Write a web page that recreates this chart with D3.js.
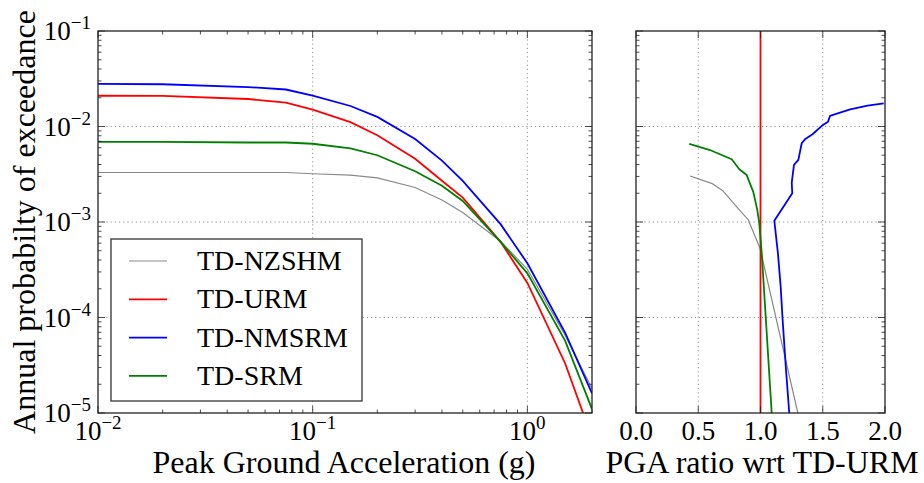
<!DOCTYPE html>
<html><head><meta charset="utf-8">
<script src="https://cdn.jsdelivr.net/npm/d3@7"></script>
</head><body style="margin:0;background:#fff">
<svg id="chart" width="924" height="483"></svg>
<script>
// hazard curves: annual probability of exceedance vs PGA (g)
var PGA = [0.01, 0.02, 0.05, 0.075, 0.1, 0.15, 0.2, 0.3, 0.4, 0.5, 0.75, 1.0, 1.5, 2.0];
var NZSHM = [0.0033, 0.0033, 0.0033, 0.0033, 0.0032, 0.0031, 0.0029, 0.0023, 0.0017, 0.00126, 0.00063, 0.00032, 0.000065, 0.000018];
var URM = [0.021, 0.0209, 0.0194, 0.0178, 0.015, 0.0111, 0.0081, 0.0046, 0.0027, 0.0018, 0.00062, 0.00023, 0.000033, 0.0000055];
var NMSRM = [0.0279, 0.0277, 0.0259, 0.0244, 0.021, 0.0164, 0.0126, 0.0074, 0.0044, 0.0027, 0.00095, 0.00037, 0.000069, 0.000016];
var SRM = [0.0069, 0.0069, 0.0068, 0.0068, 0.0066, 0.0059, 0.005, 0.0034, 0.0024, 0.00166, 0.00062, 0.00029, 0.000057, 0.000011];

// PGA ratio wrt TD-URM, as [ratio, probability]
var RATIO_NZSHM = [[0.434, 0.00303], [0.608, 0.00254], [0.70, 0.00211], [0.795, 0.00151], [0.902, 0.00105],
  [0.996, 0.00053], [1.30, 0.00001]];
var RATIO_URM = [[1.0, 0.1], [1.0, 0.00001]];
var RATIO_NMSRM = [[1.99, 0.0175], [1.86, 0.0165], [1.72, 0.0151], [1.558, 0.0129], [1.542, 0.0112], [1.49, 0.0101],
  [1.418, 0.0083], [1.357, 0.00734], [1.331, 0.00667], [1.304, 0.00447], [1.269, 0.00397], [1.251, 0.00258],
  [1.255, 0.0020], [1.111, 0.00103], [1.14, 0.00047], [1.162, 0.00021], [1.178, 0.000093], [1.205, 0.000028],
  [1.231, 0.00001]];
var RATIO_SRM = [[0.428, 0.00656], [0.594, 0.00567], [0.769, 0.00454], [0.83, 0.00357], [0.889, 0.0031],
  [0.942, 0.00207], [0.974, 0.00134], [0.99, 0.00098], [1.01, 0.00047], [1.09, 0.00001]];

var NAMES = ["TD-NZSHM", "TD-URM", "TD-NMSRM", "TD-SRM"];
var COLORS = ["#8a8a8a", "#ff0000", "#0000ff", "#008000"];
var WIDTHS = [1.2, 1.8, 1.8, 1.8];

var FONT = "'Liberation Serif', 'Times New Roman', serif";
var svg = d3.select("#chart").style("font-family", FONT);
var top_ = 31, bot = 413;

var x = d3.scaleLog().domain([0.01, 2]).range([98, 592]);
var y = d3.scaleLog().domain([1e-5, 1e-1]).range([bot, top_]);
var xr = d3.scaleLinear().domain([0, 2]).range([636, 885]);

var decades = [1e-5, 1e-4, 1e-3, 1e-2, 1e-1];
var minorY = [];
decades.slice(0, 4).forEach(function(d) { for (var k = 2; k < 10; k++) minorY.push(d * k); });
var minorX = [];
[0.01, 0.1, 1].forEach(function(d) { for (var k = 2; k < 10; k++) if (d * k <= 2) minorX.push(d * k); });

var gridStyle = function(sel) {
	sel.attr("stroke", "#777").attr("stroke-width", 0.8).attr("stroke-dasharray", "1.2,3");
};

function frame(xs) {
	var x0 = xs.range()[0], x1 = xs.range()[1];
	svg.append("rect")
		.attr("x", x0).attr("y", top_)
		.attr("width", x1 - x0).attr("height", bot - top_)
		.attr("fill", "none").attr("stroke", "#222").attr("stroke-width", 1.3);
}

function ticks(xs, xMajor, xMinor, yMajor, yMinor) {
	var x0 = xs.range()[0], x1 = xs.range()[1];
	var g = svg.append("g").attr("stroke", "#222").attr("stroke-width", 0.8);
	var addX = function(vals, len) {
		vals.forEach(function(v) {
			g.append("line").attr("x1", xs(v)).attr("x2", xs(v)).attr("y1", bot).attr("y2", bot - len);
			g.append("line").attr("x1", xs(v)).attr("x2", xs(v)).attr("y1", top_).attr("y2", top_ + len);
		});
	};
	var addY = function(vals, len) {
		vals.forEach(function(v) {
			g.append("line").attr("y1", y(v)).attr("y2", y(v)).attr("x1", x0).attr("x2", x0 + len);
			g.append("line").attr("y1", y(v)).attr("y2", y(v)).attr("x1", x1).attr("x2", x1 - len);
		});
	};
	addX(xMajor, 7); addX(xMinor, 3.5);
	addY(yMajor, 7); addY(yMinor, 3.5);
}

// "10" with a superscript exponent
function sci(g, exp, px, py, anchor) {
	var t = g.append("text").attr("x", px).attr("y", py)
		.attr("text-anchor", anchor).attr("font-size", 27);
	t.append("tspan").text("10");
	t.append("tspan").attr("dy", -11).attr("font-size", 19).text(exp < 0 ? "\u2212" + (-exp) : exp);
}

// ---------- left panel ----------
var gridL = svg.append("g");
gridL.selectAll(".gx").data([0.1, 1]).enter().append("line")
	.attr("x1", function(d) { return x(d); }).attr("x2", function(d) { return x(d); })
	.attr("y1", top_).attr("y2", bot).call(gridStyle);
gridL.selectAll(".gy").data([1e-4, 1e-3, 1e-2]).enter().append("line")
	.attr("y1", function(d) { return y(d); }).attr("y2", function(d) { return y(d); })
	.attr("x1", x.range()[0]).attr("x2", x.range()[1]).call(gridStyle);

svg.append("clipPath").attr("id", "clipL").append("rect")
	.attr("x", 98).attr("y", top_).attr("width", 494).attr("height", bot - top_);

var hazard = [NZSHM, URM, NMSRM, SRM];
var lineL = d3.line().x(function(d, i) { return x(PGA[i]); }).y(function(d) { return y(d); });
svg.append("g").attr("clip-path", "url(#clipL)")
	.selectAll("path").data(hazard).enter().append("path")
	.attr("d", lineL).attr("fill", "none")
	.attr("stroke", function(d, i) { return COLORS[i]; })
	.attr("stroke-width", function(d, i) { return WIDTHS[i]; });

ticks(x, [0.01, 0.1, 1], minorX, decades, minorY);
frame(x);

var lab = svg.append("g");
[-2, -1, 0].forEach(function(e) { sci(lab, e, x(Math.pow(10, e)), 440, "middle"); });
decades.forEach(function(d) { sci(lab, Math.round(Math.log10(d)), 91, y(d) + 9, "end"); });

svg.append("text").attr("x", 344).attr("y", 473).attr("text-anchor", "middle")
	.attr("font-size", 32).text("Peak Ground Acceleration (g)");
svg.append("text").attr("transform", "translate(35,222) rotate(-90)").attr("text-anchor", "middle")
	.attr("font-size", 32).text("Annual probabilty of exceedance");

// legend
var leg = svg.append("g");
leg.append("rect").attr("x", 111).attr("y", 239).attr("width", 251).attr("height", 162)
	.attr("fill", "#fff").attr("stroke", "#333").attr("stroke-width", 1.3);
var items = leg.selectAll(".item").data(NAMES).enter().append("g")
	.attr("transform", function(d, i) { return "translate(0," + (261 + i * 38.3) + ")"; });
items.append("line").attr("x1", 129).attr("x2", 167)
	.attr("stroke", function(d, i) { return COLORS[i]; })
	.attr("stroke-width", function(d, i) { return WIDTHS[i]; });
items.append("text").attr("x", 197).attr("y", 9).attr("font-size", 28).text(function(d) { return d; });

// ---------- right panel ----------
var gridR = svg.append("g");
gridR.selectAll(".gx").data([0.5, 1, 1.5]).enter().append("line")
	.attr("x1", function(d) { return xr(d); }).attr("x2", function(d) { return xr(d); })
	.attr("y1", top_).attr("y2", bot).call(gridStyle);
gridR.selectAll(".gy").data([1e-4, 1e-3, 1e-2]).enter().append("line")
	.attr("y1", function(d) { return y(d); }).attr("y2", function(d) { return y(d); })
	.attr("x1", xr.range()[0]).attr("x2", xr.range()[1]).call(gridStyle);

var ratios = [RATIO_NZSHM, RATIO_URM, RATIO_NMSRM, RATIO_SRM];
var lineR = d3.line().x(function(d) { return xr(d[0]); }).y(function(d) { return y(d[1]); });
svg.append("g").selectAll("path").data(ratios).enter().append("path")
	.attr("d", lineR).attr("fill", "none").attr("stroke-linejoin", "round")
	.attr("stroke", function(d, i) { return COLORS[i]; })
	.attr("stroke-width", function(d, i) { return WIDTHS[i]; });

ticks(xr, [0, 0.5, 1, 1.5, 2], [], decades, minorY);
frame(xr);

svg.append("g").selectAll("text").data([0, 0.5, 1, 1.5, 2]).enter().append("text")
	.attr("x", function(d) { return xr(d); }).attr("y", 440).attr("text-anchor", "middle")
	.attr("font-size", 27).text(function(d) { return d.toFixed(1); });
svg.append("text").attr("x", 762).attr("y", 473).attr("text-anchor", "middle")
	.attr("font-size", 32).text("PGA ratio wrt TD-URM");
</script>
</body></html>
